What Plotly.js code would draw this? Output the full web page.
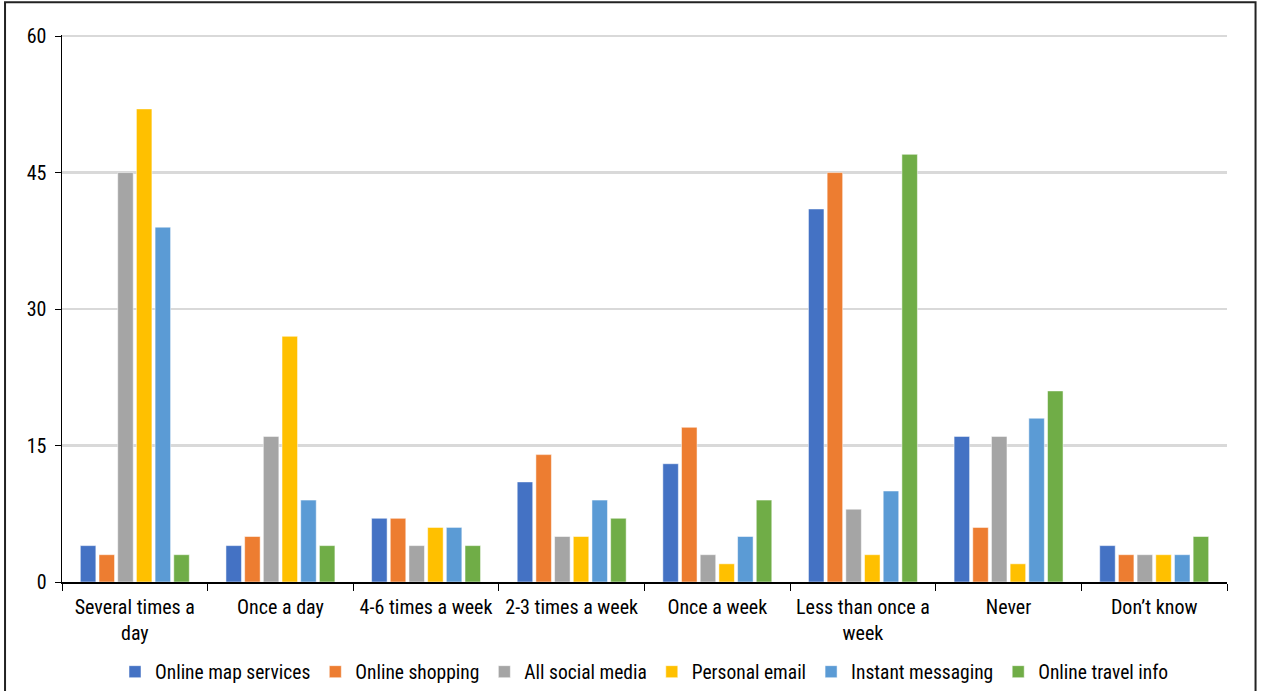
<!DOCTYPE html>
<html><head><meta charset="utf-8">
<script src="https://cdn.plot.ly/plotly-3.0.1.min.js"></script>
<style>html,body{margin:0;padding:0;background:#fff}#chart{width:1261px;height:691px}</style>
</head><body><div id="chart"></div>
<script>
const categories = ["Several times a<br>day","Once a day","4-6 times a week","2-3 times a week","Once a week","Less than once a<br>week","Never","Don\u2019t know"];
const seriesNames = ["Online map services","Online shopping","All social media","Personal email","Instant messaging","Online travel info"];
const mapServices = [4,4,7,11,13,41,16,4];
const shopping    = [3,5,7,14,17,45,6,3];
const socialMedia = [45,16,4,5,3,8,16,3];
const email       = [52,27,6,5,2,3,2,3];
const messaging   = [39,9,6,9,5,10,18,3];
const travelInfo  = [3,4,4,7,9,47,21,5];
const yTicks = [0,15,30,45,60];
const colors = ["#4472C4","#ED7D31","#A5A5A5","#FFC000","#5B9BD5","#70AD47"];
const allValues = [mapServices,shopping,socialMedia,email,messaging,travelInfo];
const font = "'Liberation Sans Narrow','Arial Narrow','Roboto Condensed','Liberation Sans',Arial,sans-serif";
const traces = allValues.map((v,i)=>({
  type:"bar", x:categories, y:v, name:seriesNames[i],
  marker:{color:colors[i], line:{color:"#ffffff", width:0.5}},
  hoverinfo:"x+y+name"
}));
const layout = {
  width:1261, height:691,
  margin:{l:62, r:34, t:35, b:109, autoexpand:false},
  paper_bgcolor:"#fff", plot_bgcolor:"#fff",
  font:{family:font, size:20, color:"#000"},
  barmode:"group", bargap:0.23, bargroupgap:0.17,
  showlegend:true,
  legend:{orientation:"h", x:0.5, xanchor:"center", y:-0.1645, yanchor:"middle",
          font:{family:font, size:19.5, color:"#000"}, itemwidth:30, tracegroupgap:0},
  xaxis:{type:"category", showline:true, linecolor:"#000", linewidth:1.5,
         ticks:"outside", tickson:"boundaries", ticklen:7, tickcolor:"#000",
         showgrid:false, tickfont:{family:font, size:20}, automargin:false,
         ticklabelstandoff:6},
  yaxis:{range:[0,60.12], tickvals:yTicks, showline:true, linecolor:"#000", linewidth:1.5,
         ticks:"outside", ticklen:6, tickcolor:"#000",
         showgrid:true, gridcolor:"#D9D9D9", gridwidth:2.5, zeroline:false,
         tickfont:{family:font, size:20}, automargin:false, ticklabelstandoff:4},
  shapes:[
    {type:"rect", xref:"paper", yref:"paper", x0:-0.0489, x1:1.0245, y0:-0.3, y1:1.06,
     line:{color:"#222", width:2}, fillcolor:"rgba(0,0,0,0)", layer:"below"}
  ]
};
Plotly.newPlot("chart", traces, layout, {displayModeBar:false, staticPlot:true});
</script>
</body></html>
